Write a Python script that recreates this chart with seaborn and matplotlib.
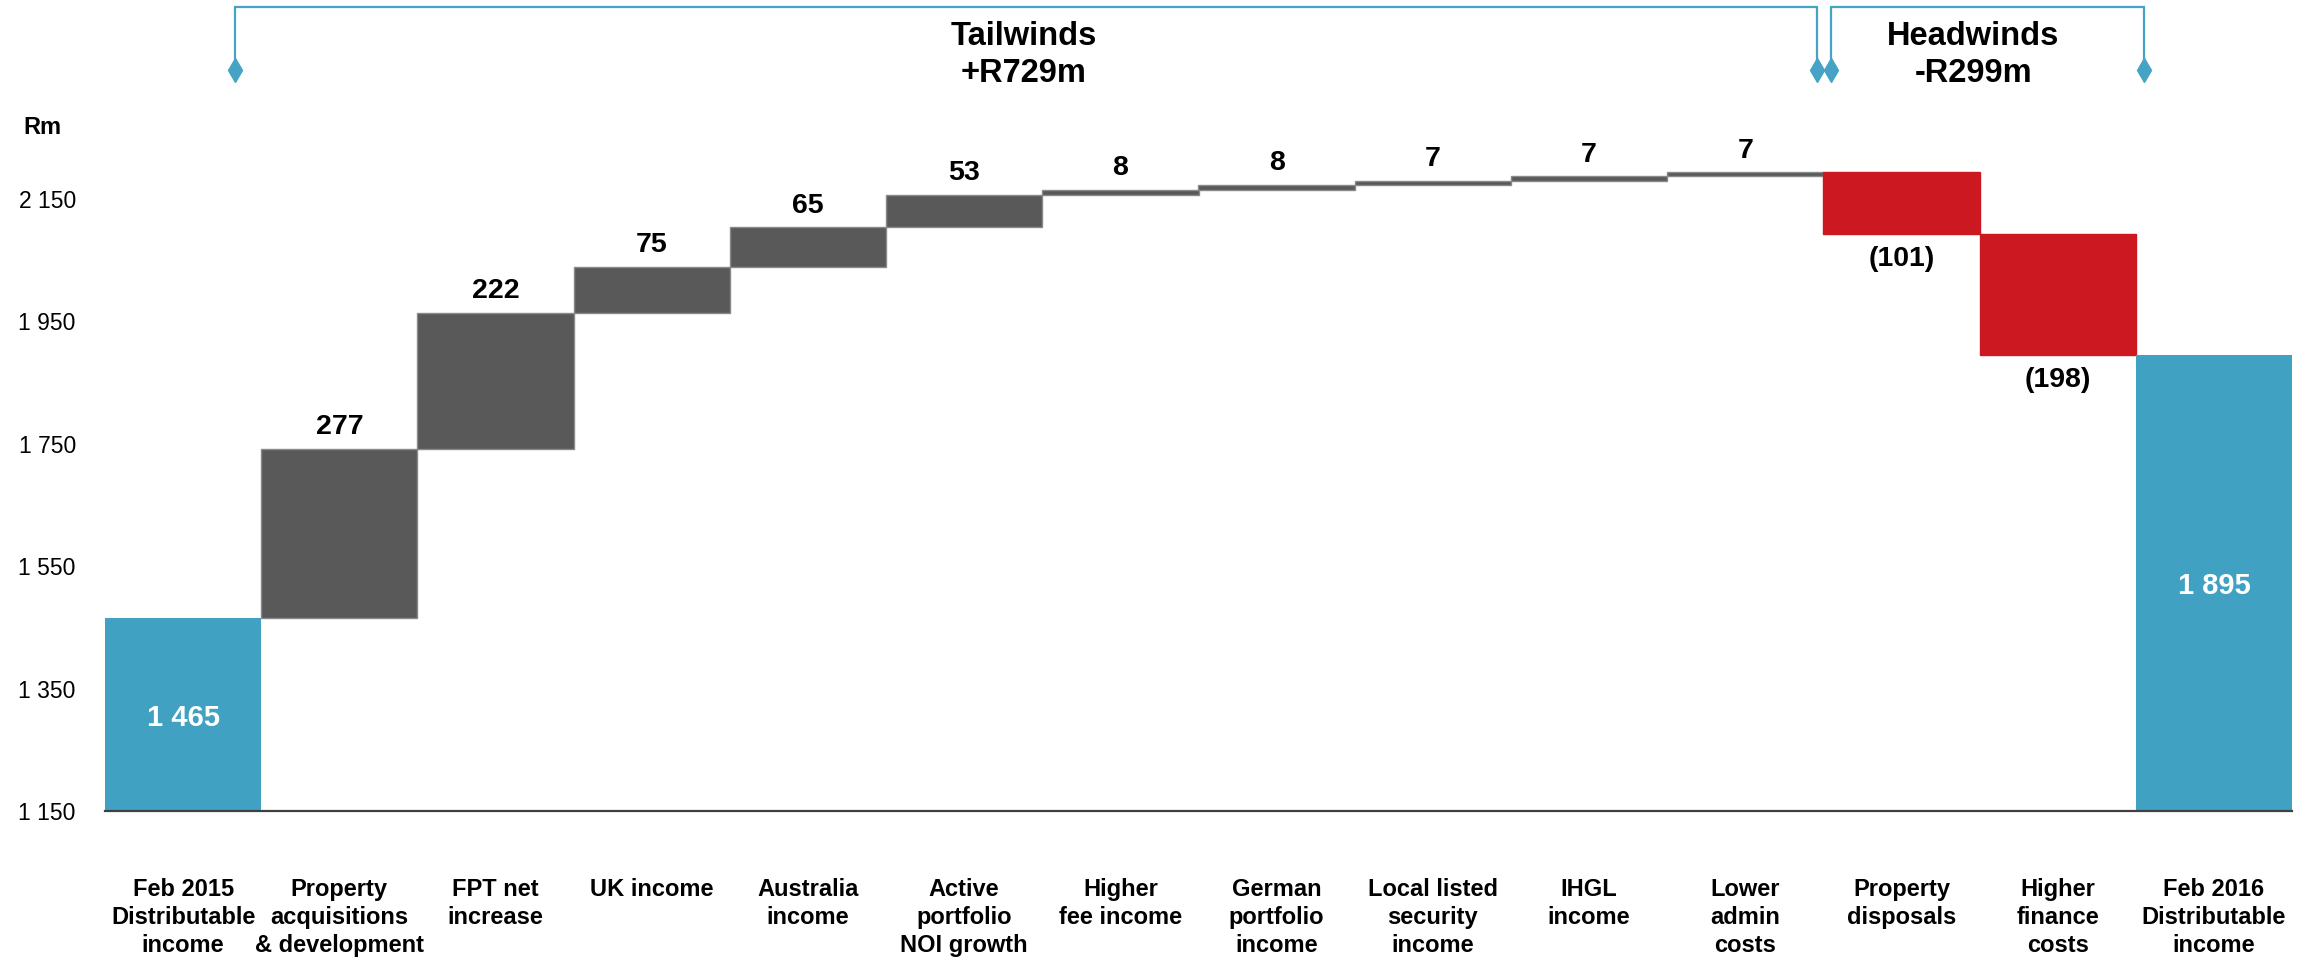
import numpy as np
import pandas as pd
import matplotlib
matplotlib.use("Agg")
import matplotlib.pyplot as plt
import matplotlib.transforms as mtransforms
import seaborn as sns

# ---------------- data ----------------
categories = [
    "Feb 2015\nDistributable\nincome",
    "Property\nacquisitions\n& development",
    "FPT net\nincrease",
    "UK income",
    "Australia\nincome",
    "Active\nportfolio\nNOI growth",
    "Higher\nfee income",
    "German\nportfolio\nincome",
    "Local listed\nsecurity\nincome",
    "IHGL\nincome",
    "Lower\nadmin\ncosts",
    "Property\ndisposals",
    "Higher\nfinance\ncosts",
    "Feb 2016\nDistributable\nincome",
]
start_value = 1465
changes = [277, 222, 75, 65, 53, 8, 8, 7, 7, 7, -101, -198]
end_value = 1895
y_ticks = [1150, 1350, 1550, 1750, 1950, 2150]
y_tick_labels = ["1 150", "1 350", "1 550", "1 750", "1 950", "2 150"]
unit_label = "Rm"
group_titles = ["Tailwinds\n+R729m", "Headwinds\n-R299m"]

# ---------------- derived ----------------
BLUE = "#41A1C3"
GREY = "#595959"
RED = "#CC1820"
BRACKET = "#46A3C5"

cum = np.cumsum([start_value] + changes)
bottoms = np.concatenate([[0], cum[:-1], [0]])
heights = np.concatenate([[start_value], changes, [end_value]])
colors = [BLUE] + [GREY if c > 0 else RED for c in changes] + [BLUE]
edges = ["none"] + ["#8a8a8a" if c > 0 else RED for c in changes] + ["none"]

df = pd.DataFrame({"category": categories, "height": heights})

sns.set_theme(style="white")
plt.rcParams["font.family"] = ["Liberation Sans", "DejaVu Sans"]

W, H = 2316, 957
fig = plt.figure(figsize=(W / 100, H / 100), dpi=100)
ax_left, ax_right, ax_bottom_px = 105, 2292, 811
ax = fig.add_axes([ax_left / W, (H - ax_bottom_px) / H,
                   (ax_right - ax_left) / W, ax_bottom_px / H])

sns.barplot(data=df, x="category", y="height", order=categories,
            errorbar=None, width=1.0, ax=ax, color=GREY, saturation=1,
            bottom=bottoms, facecolor=colors, edgecolor=edges, linewidth=1.0)

ymin = y_ticks[0]
px_per_unit = 0.612
ax.set_ylim(ymin, ymin + ax_bottom_px / px_per_unit)
ax.set_xlim(-0.5, len(categories) - 0.5)

ax.set_yticks(y_ticks)
ax.set_yticklabels(y_tick_labels, fontsize=16.5)
ax.set_xticks(range(len(categories)))
ax.set_xticklabels(categories, fontsize=17, fontweight="bold",
                   linespacing=1.28, va="top", ha="center", ma="center")
ax.tick_params(axis="y", length=0, pad=21, colors="black")
ax.tick_params(axis="x", length=0, pad=48, colors="black")
ax.set_xlabel("")
ax.set_ylabel("")
for s in ["top", "right", "left"]:
    ax.spines[s].set_visible(False)
ax.spines["bottom"].set_color("#404040")
ax.spines["bottom"].set_linewidth(1.6)
ax.grid(False)

fmt = lambda v: f"{v:,}".replace(",", " ")

# value labels
for i, (b, h) in enumerate(zip(bottoms, heights)):
    if i == 0 or i == len(categories) - 1:
        lo = max(b, ymin)
        ax.text(i, (lo + b + h) / 2, fmt(h), ha="center", va="center_baseline",
                color="white", fontsize=21, fontweight="bold")
    elif h > 0:
        ax.annotate(fmt(h), (i, b + h), xytext=(0, 15.5), textcoords="offset points",
                    ha="center", va="center", fontsize=20.5, fontweight="bold",
                    color="black")
    else:
        ax.annotate(f"({fmt(-h)})", (i, b + h), xytext=(0, -18),
                    textcoords="offset points", ha="center", va="center",
                    fontsize=20.5, fontweight="bold", color="black")

# brackets (x in data, y in axes fraction)
trans = mtransforms.blended_transform_factory(ax.transData, ax.transAxes)
y_top = 1 - 7 / ax_bottom_px
y_end = 1 - 70 / ax_bottom_px
n_up = sum(1 for c in changes if c > 0)
spans = [(0.33, n_up + 0.46), (n_up + 0.55, n_up + 2.55)]
for (x0, x1), title in zip(spans, group_titles):
    ax.plot([x0, x0, x1, x1], [y_end, y_top, y_top, y_end], color=BRACKET,
            lw=1.6, transform=trans, clip_on=False, solid_joinstyle="miter")
    ax.plot([x0, x1], [y_end, y_end], ls="none", marker="d", ms=12,
            color=BRACKET, transform=trans, clip_on=False)
spans_text_x = [5.38, 11.46]
for xt, title in zip(spans_text_x, group_titles):
    ax.text(xt, 1 - 55 / ax_bottom_px, title, transform=trans, ha="center",
            va="center", fontsize=23.5, fontweight="bold", linespacing=1.25,
            color="black")

fig.text(23 / W, 1 - 128 / H, unit_label, ha="left", va="center",
         fontsize=17, fontweight="bold", color="black")

fig.savefig("out.png", dpi=100, facecolor="white")
